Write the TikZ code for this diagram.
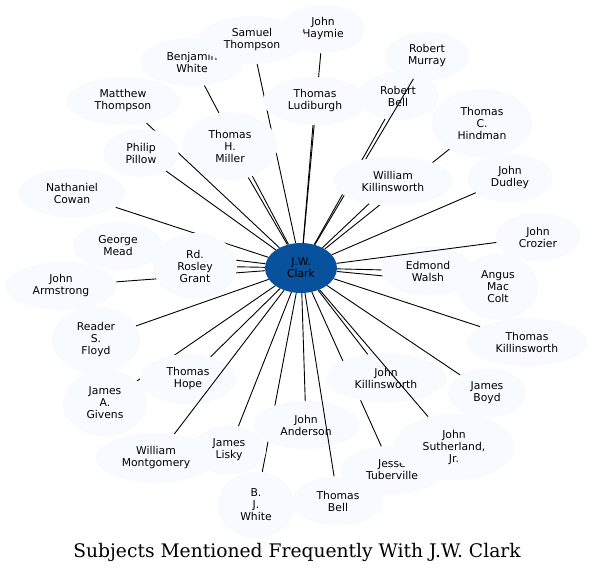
\documentclass[tikz,border=0pt]{standalone}
\usepackage{fontspec}
\setmainfont{DejaVu Sans}
\newfontfamily\titulofont{DejaVu Serif}
\usepackage{xcolor}
\definecolor{azulescuro}{HTML}{08519C}
\definecolor{azulclaro}{HTML}{F7FBFF}
\usetikzlibrary{shapes.geometric}

\begin{document}
\begin{tikzpicture}[x=1pt,y=-1pt,
  pessoa/.style={ellipse,fill=azulclaro,inner sep=0pt,align=center,font=\fontsize{10.8}{12}\selectfont},
  centro/.style={pessoa,fill=azulescuro},
  liga/.style={line width=0.9pt}]
\useasboundingbox (0,0) rectangle (594,574);
% Nó central
\node[centro,minimum width=72,minimum height=50] (clark) at (301,268) {J.W.\\Clark};
% Vizinhos (cada nó seguido da sua ligação)
\node[pessoa,minimum width=84,minimum height=48] (haymie) at (323,29) {John\\Haymie};
\draw[liga] (clark) -- (haymie);
\node[pessoa,minimum width=104,minimum height=48] (bwhite) at (192,62) {Benjamin\\White};
\draw[liga] (clark) -- (bwhite);
\node[pessoa,minimum width=108,minimum height=48] (samuel) at (252,40) {Samuel\\Thompson};
\draw[liga] (clark) -- (samuel);
\node[pessoa,minimum width=104,minimum height=48] (ludiburgh) at (315,101) {Thomas\\Ludiburgh};
\draw[liga] (clark) -- (ludiburgh);
\node[pessoa,minimum width=95,minimum height=68] (miller) at (230,146) {Thomas\\H.\\Miller};
\draw[liga] (clark) -- (miller);
\node[pessoa,minimum width=114,minimum height=48] (matthew) at (123,101) {Matthew\\Thompson};
\draw[liga] (clark) -- (matthew);
\node[pessoa,minimum width=75,minimum height=48] (pillow) at (141,153) {Philip\\Pillow};
\draw[liga] (clark) -- (pillow);
\node[pessoa,minimum width=107,minimum height=49] (cowan) at (72,193) {Nathaniel\\Cowan};
\draw[liga] (clark) -- (cowan);
\node[pessoa,minimum width=90,minimum height=48] (mead) at (118,246) {George\\Mead};
\draw[liga] (clark) -- (mead);
\node[pessoa,minimum width=112,minimum height=48] (armstrong) at (61,286) {John\\Armstrong};
\draw[liga] (clark) -- (armstrong);
\node[pessoa,minimum width=84,minimum height=66] (grant) at (195,266) {Rd.\\Rosley\\Grant};
\draw[liga] (clark) -- (grant);
\node[pessoa,minimum width=81,minimum height=48] (rbell) at (398,96) {Robert\\Bell};
\draw[liga] (clark) -- (rbell);
\node[pessoa,minimum width=84,minimum height=48] (murray) at (427,56) {Robert\\Murray};
\draw[liga] (clark) -- (murray);
\node[pessoa,minimum width=101,minimum height=68] (hindman) at (482,123) {Thomas\\C.\\Hindman};
\draw[liga] (clark) -- (hindman);
\node[pessoa,minimum width=120,minimum height=49] (wkillins) at (393,181) {William\\Killinsworth};
\draw[liga] (clark) -- (wkillins);
\node[pessoa,minimum width=85,minimum height=49] (dudley) at (510,178) {John\\Dudley};
\draw[liga] (clark) -- (dudley);
\node[pessoa,minimum width=80,minimum height=66] (colt) at (498,287) {Angus\\Mac\\Colt};
\draw[liga] (clark) -- (colt);
\node[pessoa,minimum width=93,minimum height=49] (walsh) at (428,271) {Edmond\\Walsh};
\draw[liga] (clark) -- (walsh);
\node[pessoa,minimum width=85,minimum height=48] (crozier) at (538,237) {John\\Crozier};
\draw[liga] (clark) -- (crozier);
\node[pessoa,minimum width=121,minimum height=48] (tkillins) at (527,342) {Thomas\\Killinsworth};
\draw[liga] (clark) -- (tkillins);
\node[pessoa,minimum width=78,minimum height=49] (boyd) at (487,393) {James\\Boyd};
\draw[liga] (clark) -- (boyd);
\node[pessoa,minimum width=104,minimum height=48] (tuberville) at (392,470) {Jesse\\Tuberville};
\draw[liga] (clark) -- (tuberville);
\node[pessoa,minimum width=121,minimum height=49] (jkillins) at (386,378) {John\\Killinsworth};
\draw[liga] (clark) -- (jkillins);
\node[pessoa,minimum width=121,minimum height=67] (sutherland) at (454,447) {John\\Sutherland,\\Jr.};
\draw[liga] (clark) -- (sutherland);
\node[pessoa,minimum width=77,minimum height=67] (bjwhite) at (256,505) {B.\\J.\\White};
\draw[liga] (clark) -- (bjwhite);
\node[pessoa,minimum width=106,minimum height=48] (anderson) at (306,425) {John\\Anderson};
\draw[liga] (clark) -- (anderson);
\node[pessoa,minimum width=92,minimum height=49] (tbell) at (338,501) {Thomas\\Bell};
\draw[liga] (clark) -- (tbell);
\node[pessoa,minimum width=74,minimum height=49] (lisky) at (229,450) {James\\Lisky};
\draw[liga] (clark) -- (lisky);
\node[pessoa,minimum width=88,minimum height=67] (floyd) at (96,340) {Reader\\S.\\Floyd};
\draw[liga] (clark) -- (floyd);
\node[pessoa,minimum width=84,minimum height=67] (givens) at (105,403) {James\\A.\\Givens};
\draw[liga] (clark) -- (givens);
\node[pessoa,minimum width=96,minimum height=50] (hope) at (188,379) {Thomas\\Hope};
\draw[liga] (clark) -- (hope);
\node[pessoa,minimum width=121,minimum height=50] (montgomery) at (156,458) {William\\Montgomery};
\draw[liga] (clark) -- (montgomery);
% Título
\node[font=\titulofont\fontsize{18.7}{22}\selectfont] (titulo) at (297,552) {Subjects Mentioned Frequently With J.W. Clark};
\end{tikzpicture}
\end{document}
